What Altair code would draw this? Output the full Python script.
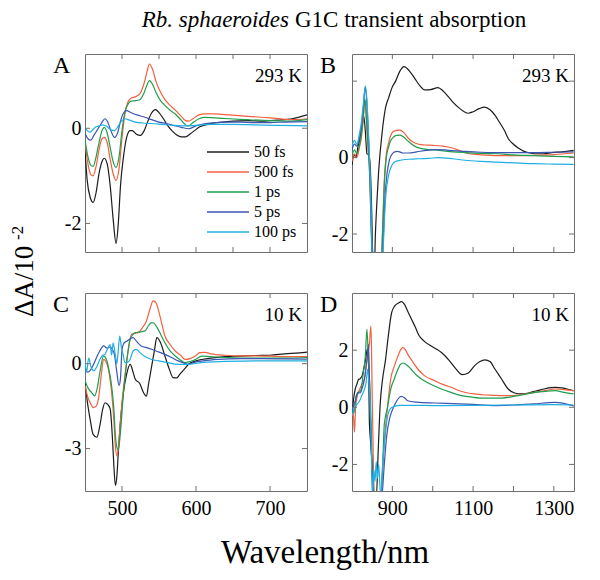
import altair as alt
import pandas as pd

SERIES = ["50 fs", "500 fs", "1 ps", "5 ps", "100 ps"]
COLORS = ["#1c1c1c", "#f2603e", "#1e9e4e", "#3b56b2", "#21aee2"]

# ---------------- Panel A : 293 K, visible ----------------
A_50FS_X = [450,453,457,461,465,469,473,476,480,484,488,492,495,498,502,507,511,514,519,525,530,535,540,545,550,556,562,568,574,580,586,592,598,605,615,630,650,670,690,710,730,750]
A_50FS_Y = [-0.45,-1.1,-1.45,-1.56,-1.35,-0.95,-0.7,-0.63,-0.75,-1.2,-1.9,-2.42,-2.0,-1.2,-0.6,-0.15,-0.05,-0.05,-0.12,-0.15,-0.05,0.15,0.32,0.39,0.33,0.2,0.05,-0.06,-0.14,-0.18,-0.18,-0.12,-0.05,0.03,0.08,0.12,0.15,0.16,0.15,0.17,0.2,0.28]
A_500FS_X = [450,454,458,461,465,469,473,476,480,484,488,492,496,500,504,508,512,518,524,530,534,537,541,546,552,558,565,572,580,586,590,596,604,612,625,645,670,700,730,750]
A_500FS_Y = [-0.3,-0.75,-0.98,-1.0,-0.8,-0.45,-0.22,-0.19,-0.3,-0.65,-0.95,-1.1,-0.85,-0.2,0.3,0.55,0.63,0.66,0.72,0.95,1.2,1.35,1.25,0.98,0.76,0.6,0.48,0.38,0.25,0.16,0.15,0.2,0.28,0.3,0.3,0.28,0.25,0.22,0.18,0.2]
A_1PS_X = [450,454,458,461,465,469,473,476,480,484,488,492,496,500,504,508,512,518,524,530,534,537,541,546,552,558,565,572,580,586,590,596,604,612,625,645,670,700,730,750]
A_1PS_Y = [-0.25,-0.6,-0.78,-0.8,-0.6,-0.3,-0.05,0.02,-0.1,-0.4,-0.7,-0.82,-0.6,-0.05,0.35,0.5,0.57,0.58,0.6,0.75,0.92,1.0,0.93,0.75,0.58,0.48,0.38,0.3,0.17,0.07,0.05,0.12,0.2,0.23,0.22,0.2,0.18,0.16,0.15,0.18]
A_5PS_X = [450,454,458,462,466,470,474,477,481,485,490,494,498,502,506,512,520,531,540,550,560,570,580,590,600,610,620,640,660,680,700,720,750]
A_5PS_Y = [-0.1,-0.22,-0.25,-0.15,-0.05,0.05,0.15,0.2,0.12,-0.05,-0.19,-0.1,0.15,0.32,0.37,0.33,0.28,0.23,0.18,0.13,0.1,0.06,0.02,-0.01,0.05,0.09,0.11,0.13,0.13,0.12,0.12,0.13,0.14]
A_100PS_X = [450,453,457,461,465,469,474,479,484,490,495,500,504,510,518,528,540,555,570,585,600,620,650,680,710,750]
A_100PS_Y = [0.02,-0.05,-0.08,-0.02,0.03,0.05,0.07,0.04,-0.02,-0.05,0.05,0.16,0.2,0.17,0.13,0.11,0.1,0.08,0.06,0.05,0.06,0.08,0.08,0.07,0.06,0.05]

# ---------------- Panel B : 293 K, near-IR ----------------
B_50FS_X = [800,805,810,815,820,825,829,833,837,841,845,849,852,855,858,862,866,875,883,891,900,908,918,929,942,955,968,980,995,1013,1025,1038,1050,1065,1078,1088,1100,1115,1129,1142,1154,1165,1178,1187,1200,1212,1225,1240,1253,1275,1295,1320,1349]
B_50FS_Y = [-0.2,0.08,0.0,0.3,0.5,0.87,1.09,0.69,0.1,0.08,-0.2,-1.5,-2.8,-3.0,-2.0,-1.1,-0.36,0.69,1.3,1.57,1.85,2.0,2.25,2.38,2.27,2.08,1.88,1.77,1.78,1.83,1.75,1.6,1.45,1.3,1.2,1.16,1.2,1.28,1.32,1.25,1.11,0.93,0.7,0.5,0.35,0.25,0.17,0.12,0.1,0.1,0.13,0.15,0.19]
B_500FS_X = [800,806,812,818,823,828,832,836,840,844,848,852,858,866,872,876,880,885,890,895,902,910,918,928,940,952,965,980,1000,1025,1049,1070,1090,1120,1160,1200,1250,1300,1349]
B_500FS_Y = [-0.1,0.1,0.0,0.25,0.5,1.0,1.5,0.9,0.2,-0.5,-2.0,-3.5,-3.5,-3.5,-3.0,-1.8,-0.6,0.1,0.35,0.55,0.68,0.71,0.72,0.66,0.5,0.4,0.35,0.33,0.32,0.3,0.25,0.17,0.1,0.07,0.05,0.05,0.06,0.08,0.12]
B_1PS_X = [800,806,812,818,823,828,832,836,840,844,848,852,858,866,872,876,880,885,890,895,902,910,918,928,940,955,970,990,1015,1050,1080,1120,1160,1200,1250,1300,1349]
B_1PS_Y = [0.05,0.2,0.1,0.3,0.6,1.1,1.55,1.0,0.3,-0.5,-2.0,-3.5,-3.5,-3.5,-3.0,-1.9,-0.7,0.0,0.25,0.42,0.53,0.58,0.59,0.54,0.42,0.3,0.24,0.21,0.19,0.15,0.13,0.11,0.1,0.07,0.05,0.03,0.02]
B_5PS_X = [800,806,812,818,823,828,833,837,841,845,849,853,860,868,874,878,882,887,893,900,906,912,918,926,940,960,985,1005,1030,1049,1080,1120,1160,1200,1250,1300,1349]
B_5PS_Y = [0.2,0.35,0.3,0.5,0.8,1.3,1.85,1.4,0.5,-0.5,-2.2,-3.5,-3.5,-3.5,-3.0,-2.0,-1.0,-0.4,-0.05,0.1,0.15,0.16,0.15,0.12,0.12,0.15,0.19,0.21,0.2,0.18,0.16,0.14,0.13,0.13,0.13,0.14,0.15]
B_100PS_X = [800,806,812,818,823,828,833,837,841,845,849,853,860,868,874,878,883,890,900,908,915,930,950,965,990,1013,1049,1080,1120,1160,1200,1250,1300,1349]
B_100PS_Y = [0.3,0.45,0.35,0.6,0.9,1.4,1.88,1.5,0.6,-0.5,-2.2,-3.5,-3.5,-3.5,-3.2,-2.2,-1.1,-0.5,-0.18,-0.1,-0.08,-0.05,-0.04,-0.03,-0.02,0.0,-0.03,-0.07,-0.1,-0.12,-0.14,-0.16,-0.17,-0.18]

# ---------------- Panel C : 10 K, visible ----------------
C_50FS_X = [450,454,457,461,466,470,474,477,481,484,487,489,491,493,495,498,502,506,511,515,518,524,529,533,536,540,544,547,552,558,564,569,574,578,584,590,600,608,620,640,660,680,700,720,740,750]
C_50FS_Y = [-0.67,-1.5,-1.97,-2.5,-2.6,-2.2,-1.6,-1.38,-1.45,-1.6,-2.6,-3.6,-4.3,-4.0,-3.15,-2.0,-1.0,-0.4,-0.02,-0.3,-0.55,-0.7,-1.02,-1.15,-0.7,-0.1,0.5,0.92,0.75,0.27,-0.2,-0.49,-0.5,-0.38,-0.2,-0.02,0.1,0.15,0.2,0.25,0.27,0.29,0.3,0.35,0.38,0.41]
C_500FS_X = [450,454,457,461,465,468,472,475,479,483,486,489,491,493,495,498,501,504,508,513,518,522,527,533,538,542,546,549,553,558,565,572,580,585,592,599,605,612,620,640,660,680,700,720,750]
C_500FS_Y = [-0.77,-1.2,-1.38,-1.55,-1.5,-1.26,-0.4,0.15,0.04,-0.4,-1.02,-2.0,-2.9,-3.26,-3.0,-2.0,-1.1,-0.43,0.4,1.04,1.08,1.1,1.25,1.51,1.95,2.22,2.15,1.92,1.5,0.98,0.68,0.45,0.28,0.15,0.18,0.27,0.39,0.4,0.35,0.3,0.28,0.28,0.27,0.25,0.25]
C_1PS_X = [450,455,459,463,467,470,475,479,483,486,489,491,493,495,498,502,506,511,518,524,531,536,540,543,547,552,558,565,572,578,585,592,599,608,620,640,660,680,700,720,750]
C_1PS_Y = [-0.6,-0.9,-1.02,-1.14,-0.8,-0.32,0.27,0.15,-0.3,-0.79,-1.6,-2.5,-2.95,-3.05,-2.4,-1.02,0.0,0.86,1.1,1.12,1.16,1.35,1.45,1.44,1.3,1.05,0.74,0.45,0.27,0.15,0.04,0.08,0.15,0.27,0.25,0.22,0.2,0.2,0.2,0.2,0.22]
C_5PS_X = [450,454,458,462,466,470,475,480,484,487,490,493,496,498,500,503,507,511,515,520,526,533,540,549,558,567,576,583,590,598,610,630,660,690,720,750]
C_5PS_Y = [-0.15,-0.3,-0.2,0.0,0.25,0.45,0.63,0.55,0.6,0.5,0.3,-0.3,-0.77,-0.5,0.5,0.74,0.8,0.88,0.92,0.78,0.63,0.57,0.51,0.42,0.33,0.22,0.1,0.03,-0.02,0.05,0.1,0.15,0.18,0.18,0.17,0.16]
C_100PS_X = [450,452,455,458,462,466,470,474,477,480,484,486,488,491,493,495,497,499,501,504,507,511,515,519,524,530,540,550,560,576,590,610,640,680,720,750]
C_100PS_Y = [0.1,-0.3,0.2,-0.1,-0.25,-0.1,0.15,0.3,0.33,0.5,0.68,0.3,0.74,0.3,0.0,0.5,0.98,0.6,0.39,0.04,0.05,0.15,0.45,0.51,0.4,0.27,0.15,0.1,0.05,-0.02,-0.02,0.05,0.08,0.1,0.1,0.1]

# ---------------- Panel D : 10 K, near-IR ----------------
D_50FS_X = [800,804,808,812,816,820,825,830,834,838,841,843,846,850,855,860,865,870,875,883,890,898,906,915,923,930,940,948,957,965,980,998,1010,1023,1040,1056,1073,1088,1104,1117,1129,1142,1154,1170,1187,1203,1220,1237,1253,1270,1287,1303,1320,1335,1349]
D_50FS_Y = [-0.29,0.3,0.64,0.8,0.97,1.0,1.1,1.4,1.7,2.04,1.5,-0.5,-1.2,-2.0,-3.2,-3.2,-1.5,0.15,0.9,1.66,2.5,3.3,3.55,3.65,3.7,3.6,3.3,3.06,2.8,2.54,2.3,2.13,2.03,1.9,1.65,1.37,1.14,1.2,1.46,1.6,1.66,1.6,1.34,1.0,0.64,0.5,0.47,0.5,0.56,0.62,0.68,0.7,0.68,0.63,0.58]
D_500FS_X = [800,803,806,809,813,818,824,831,838,843,847,850,853,858,866,872,876,880,885,890,896,905,914,920,926,932,938,950,963,980,1005,1025,1045,1066,1087,1108,1129,1150,1170,1190,1212,1232,1253,1278,1303,1325,1349]
D_500FS_Y = [-0.3,-0.2,-0.87,0.0,0.4,0.6,0.8,1.0,1.8,2.2,2.85,0.5,-2.0,-3.5,-3.5,-3.2,-2.2,-1.2,-0.41,0.3,0.99,1.45,1.8,2.0,2.1,2.02,1.86,1.6,1.34,1.1,0.93,0.8,0.7,0.58,0.5,0.46,0.43,0.42,0.41,0.41,0.43,0.47,0.52,0.58,0.64,0.62,0.58]
D_1PS_X = [800,805,810,815,822,828,833,837,841,845,849,853,858,866,872,876,880,888,896,905,914,920,926,934,946,960,979,1000,1021,1045,1071,1100,1129,1160,1187,1220,1253,1280,1303,1325,1349]
D_1PS_Y = [0.0,-0.2,0.4,0.5,0.6,1.2,1.8,2.74,1.5,0.5,-1.5,-3.5,-3.5,-3.5,-3.0,-2.0,-0.6,0.0,0.64,1.0,1.34,1.5,1.55,1.5,1.34,1.12,0.93,0.77,0.64,0.52,0.41,0.35,0.32,0.32,0.35,0.43,0.52,0.56,0.58,0.52,0.47]
D_5PS_X = [800,805,810,814,820,826,831,835,839,841,844,848,853,860,868,875,880,886,893,901,908,914,922,930,938,960,1005,1050,1100,1150,1200,1250,1303,1349]
D_5PS_Y = [-0.2,0.1,0.3,0.52,0.5,0.7,1.0,1.45,1.9,2.2,0.5,-1.5,-3.5,-3.5,-3.5,-3.0,-2.0,-1.0,-0.4,-0.06,0.15,0.29,0.38,0.33,0.23,0.18,0.15,0.13,0.1,0.06,0.08,0.12,0.17,0.05]
D_100PS_X = [800,804,808,812,818,824,830,835,839,842,845,848,851,854,857,860,863,866,869,872,876,881,887,895,905,920,960,1000,1100,1200,1300,1349]
D_100PS_Y = [-0.3,-0.1,0.0,0.1,0.2,0.4,0.6,0.87,1.34,0.8,0.2,-1.5,-3.2,-2.2,-2.6,-1.9,-2.5,-2.0,-2.7,-3.2,-2.0,-1.2,-0.4,-0.05,0.03,0.07,0.07,0.06,0.07,0.08,0.09,0.08]

# ---------------- axes: domains, ticks, labels ----------------
VIS_DOMAIN = [450, 750]
NIR_DOMAIN = [800, 1350]
A_YDOMAIN = [-2.6, 1.56]
B_YDOMAIN = [-2.47, 2.71]
C_YDOMAIN = [-4.5, 2.5]
D_YDOMAIN = [-2.93, 4.0]
A_XTICKS = [500, 550, 600, 650, 700]
C_XTICKS = [500, 600, 700]
C_XLABELS = [500, 600, 700]
NIR_XTICKS = [900, 1000, 1100, 1200, 1300]
D_XLABELS = [900, 1100, 1300]
A_YTICKS = [-2, 0]
B_YTICKS = [-2, 0, 2]
B_YLABELS = [-2, 0]
C_YTICKS = [-3, 0]
D_YTICKS = [-2, 0, 2]
D_YLABELS = [-2, 0, 2]

TITLE_ITALIC = "Rb. sphaeroides"
TITLE_REST = "G1C transient absorption"
Y_TITLE = "ΔA/10"
Y_TITLE_EXP = "-2"
X_TITLE = "Wavelength/nm"

FONT = "Liberation Serif"
W, H = 222, 198
TICK = 5
FRAME = "#6e6e6e"


def long_frame(pairs):
    rows = []
    for name, xs, ys in pairs:
        for k, (x, y) in enumerate(zip(xs, ys)):
            rows.append({"series": name, "wl": x, "dA": y, "i": k})
    return pd.DataFrame(rows)


def dummy():
    return alt.Data(values=[{"d": 0}])


def panel(df, xdom, ydom, xticks, xlabels, yticks, ylabels, letter, temp, legend=None, extra=None):
    xs = alt.Scale(domain=xdom, nice=False, zero=False)
    ys = alt.Scale(domain=ydom, nice=False, zero=False)
    if xlabels:
        xaxis = alt.Axis(values=xlabels, ticks=False, domain=False, grid=False, labelFont=FONT,
                         labelFontSize=20, labelColor="black", labelPadding=7, format="d",
                         labelFlush=False, title=None)
    else:
        xaxis = None
    yaxis = alt.Axis(values=ylabels, ticks=False, domain=False, grid=False, labelFont=FONT,
                     labelFontSize=20, labelColor="black", labelPadding=4, title=None,
                     labelExpr="datum.value < 0 ? '-' + abs(datum.value) : '' + datum.value")
    color = alt.Color("series:N", scale=alt.Scale(domain=SERIES, range=COLORS),
                      sort=SERIES, legend=legend)
    lines = alt.Chart(df).mark_line(strokeWidth=1.2, clip=True, interpolate="monotone").encode(
        x=alt.X("wl:Q", scale=xs, axis=xaxis, title=None),
        y=alt.Y("dA:Q", scale=ys, axis=yaxis, title=None),
        color=color,
        order="i:Q",
        detail="series:N",
    )
    xt = pd.DataFrame({"t": xticks})
    yt = pd.DataFrame({"t": yticks})
    xb = alt.Chart(xt).mark_rule(color=FRAME, strokeWidth=1).encode(
        x=alt.X("t:Q", scale=xs, axis=xaxis, title=None), y=alt.value(H), y2=alt.value(H - TICK))
    xtop = alt.Chart(xt).mark_rule(color=FRAME, strokeWidth=1).encode(
        x=alt.X("t:Q", scale=xs, axis=xaxis, title=None), y=alt.value(0), y2=alt.value(TICK))
    yl = alt.Chart(yt).mark_rule(color=FRAME, strokeWidth=1).encode(
        y=alt.Y("t:Q", scale=ys, axis=yaxis, title=None), x=alt.value(0), x2=alt.value(TICK))
    yr = alt.Chart(yt).mark_rule(color=FRAME, strokeWidth=1).encode(
        y=alt.Y("t:Q", scale=ys, axis=yaxis, title=None), x=alt.value(W), x2=alt.value(W - TICK))
    let = alt.Chart(dummy()).mark_text(font=FONT, fontSize=24, align="left", baseline="alphabetic",
                                       color="black").encode(
        x=alt.value(-32), y=alt.value(19), text=alt.value(letter))
    tmp = alt.Chart(dummy()).mark_text(font=FONT, fontSize=19, align="right", baseline="alphabetic",
                                       color="black").encode(
        x=alt.value(W - 5), y=alt.value(28), text=alt.value(temp))
    layers = [lines, xb, xtop, yl, yr, let, tmp] + (extra or [])
    return alt.layer(*layers).properties(width=W, height=H)


A_df = long_frame([(SERIES[0], A_50FS_X, A_50FS_Y), (SERIES[1], A_500FS_X, A_500FS_Y),
                   (SERIES[2], A_1PS_X, A_1PS_Y), (SERIES[3], A_5PS_X, A_5PS_Y),
                   (SERIES[4], A_100PS_X, A_100PS_Y)])
B_df = long_frame([(SERIES[0], B_50FS_X, B_50FS_Y), (SERIES[1], B_500FS_X, B_500FS_Y),
                   (SERIES[2], B_1PS_X, B_1PS_Y), (SERIES[3], B_5PS_X, B_5PS_Y),
                   (SERIES[4], B_100PS_X, B_100PS_Y)])
C_df = long_frame([(SERIES[0], C_50FS_X, C_50FS_Y), (SERIES[1], C_500FS_X, C_500FS_Y),
                   (SERIES[2], C_1PS_X, C_1PS_Y), (SERIES[3], C_5PS_X, C_5PS_Y),
                   (SERIES[4], C_100PS_X, C_100PS_Y)])
D_df = long_frame([(SERIES[0], D_50FS_X, D_50FS_Y), (SERIES[1], D_500FS_X, D_500FS_Y),
                   (SERIES[2], D_1PS_X, D_1PS_Y), (SERIES[3], D_5PS_X, D_5PS_Y),
                   (SERIES[4], D_100PS_X, D_100PS_Y)])

legend_a = alt.Legend(orient="none", legendX=121, legendY=88, title=None,
                      symbolType="M-1,0H3.67", symbolSize=324, symbolStrokeWidth=1.4,
                      labelFont=FONT, labelFontSize=16, labelColor="black", labelOffset=28,
                      rowPadding=2, padding=0)

title_layers = [
    alt.Chart(dummy()).mark_text(font=FONT, fontSize=23, fontStyle="italic", align="right",
                                 baseline="alphabetic", color="black").encode(
        x=alt.value(204), y=alt.value(-27), text=alt.value(TITLE_ITALIC)),
    alt.Chart(dummy()).mark_text(font=FONT, fontSize=23, align="left",
                                 baseline="alphabetic", color="black").encode(
        x=alt.value(210), y=alt.value(-27), text=alt.value(TITLE_REST)),
]

ytitle_layers = [
    alt.Chart(dummy()).mark_text(font=FONT, fontSize=27, angle=270, align="left",
                                 baseline="alphabetic", color="black").encode(
        x=alt.value(-52), y=alt.value(24), text=alt.value(Y_TITLE)),
    alt.Chart(dummy()).mark_text(font=FONT, fontSize=17, angle=270, align="left",
                                 baseline="alphabetic", color="black").encode(
        x=alt.value(-62), y=alt.value(-53), text=alt.value(Y_TITLE_EXP)),
    alt.Chart(dummy()).mark_text(font=FONT, fontSize=33, align="center",
                                 baseline="alphabetic", color="black").encode(
        x=alt.value(240), y=alt.value(270), text=alt.value(X_TITLE)),
]

A = panel(A_df, VIS_DOMAIN, A_YDOMAIN, A_XTICKS, None, A_YTICKS, A_YTICKS, "A", "293 K",
          legend=legend_a, extra=title_layers)
B = panel(B_df, NIR_DOMAIN, B_YDOMAIN, NIR_XTICKS, None, B_YTICKS, B_YLABELS, "B", "293 K")
C = panel(C_df, VIS_DOMAIN, C_YDOMAIN, C_XTICKS, C_XLABELS, C_YTICKS, C_YTICKS, "C", "10 K",
          extra=ytitle_layers)
D = panel(D_df, NIR_DOMAIN, D_YDOMAIN, NIR_XTICKS, D_XLABELS, D_YTICKS, D_YLABELS, "D", "10 K")

chart = alt.concat(A, B, C, D, columns=2, spacing={"row": 41, "column": 45}).resolve_scale(
    color="independent"
).properties(
    bounds="flush", padding={"left": 0, "top": 0, "right": 5, "bottom": 5}
).configure_view(stroke=FRAME, strokeWidth=1)

chart.save("out.html", embed_options={"renderer": "svg", "actions": False})
